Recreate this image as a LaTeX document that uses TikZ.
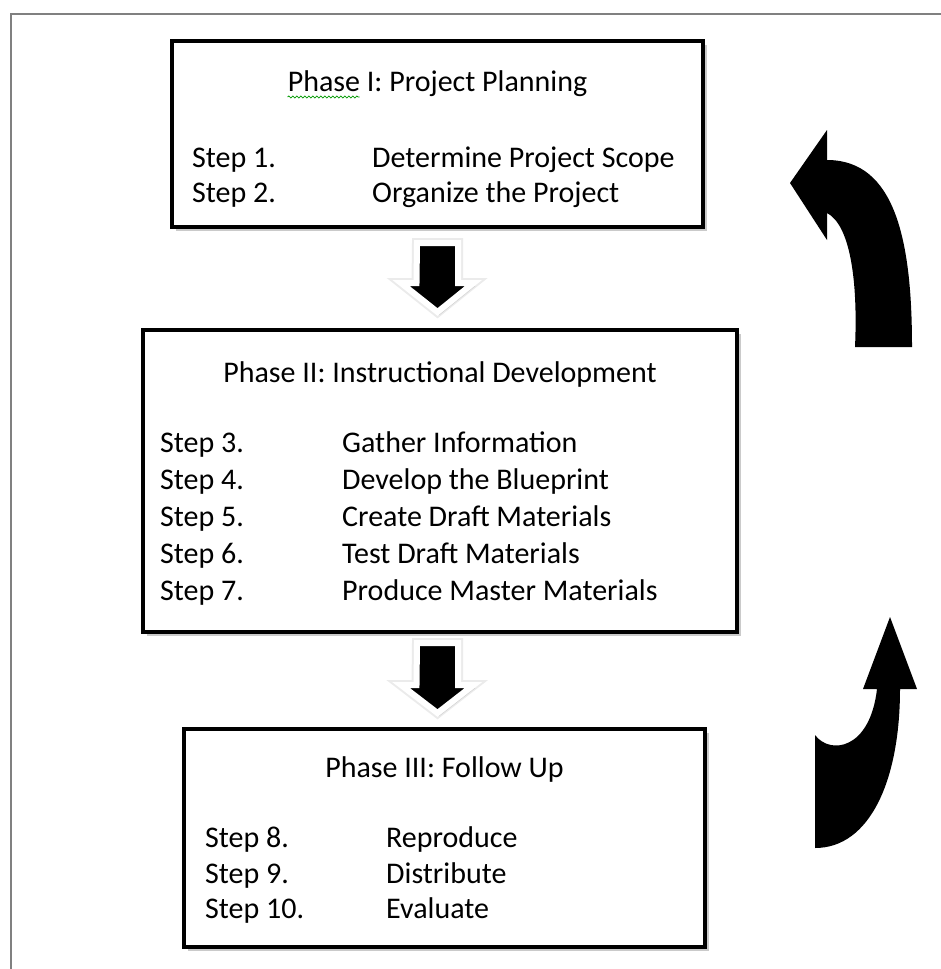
\documentclass[tikz,border=0pt]{standalone}
\usepackage{fontspec}
\setmainfont{Carlito}
\usetikzlibrary{shadows,decorations.pathmorphing,calc}
\begin{document}
\begin{tikzpicture}[x=1pt,y=-1pt,
  phasebox/.style={draw=black,line width=4pt,fill=white,inner sep=0pt,
    drop shadow={shadow xshift=4pt,shadow yshift=-4pt,opacity=0.35,fill=black!60}},
  txt/.style={anchor=base west,inner sep=0pt,font=\fontsize{30}{34}\selectfont},
  ttl/.style={anchor=base,inner sep=0pt,font=\fontsize{30}{34}\selectfont},
  blockdown/.style={fill=black,draw=white,line width=6pt,line join=miter,
    preaction={draw=black!8,line width=10pt,line join=miter},
    drop shadow={shadow xshift=2pt,shadow yshift=-3pt,opacity=0.25,fill=black!50}},
  bendarrow/.style={fill=black,draw=none},
  frame/.style={draw=black!50,line width=2pt},
  spell/.style={draw=green!60!black,line width=0.8pt,decorate,
    decoration={snake,amplitude=1pt,segment length=4pt}}]
\useasboundingbox (0,0) rectangle (940,969);
% outer frame
\draw[frame] (11,990) -- (11,14) -- (960,14);

% boxes
\node[phasebox,minimum width=531pt,minimum height=186pt] (b1) at (437.5,134) {};
\node[phasebox,minimum width=594pt,minimum height=302pt] (b2) at (440,481) {};
\node[phasebox,minimum width=521pt,minimum height=218pt] (b3) at (444.5,838) {};

% box 1 text
\node[ttl] (t1) at (437.5,91) {Phase I: Project Planning};
\draw[spell] ($(t1.base west)+(0,6)$) -- ++(72,0);
\node[txt] (s1) at (192,167) {Step 1.};
\node[txt] (d1) at (372,167) {Determine Project Scope};
\node[txt] (s2) at (192,202) {Step 2.};
\node[txt] (d2) at (372,202) {Organize the Project};

% box 2 text
\node[ttl] (t2) at (440,382) {Phase II: Instructional Development};
\node[txt] (s3) at (160,452) {Step 3.};
\node[txt] (d3) at (342,452) {Gather Information};
\node[txt] (s4) at (160,489) {Step 4.};
\node[txt] (d4) at (342,489) {Develop the Blueprint};
\node[txt] (s5) at (160,526) {Step 5.};
\node[txt] (d5) at (342,526) {Create Draft Materials};
\node[txt] (s6) at (160,563) {Step 6.};
\node[txt] (d6) at (342,563) {Test Draft Materials};
\node[txt] (s7) at (160,600) {Step 7.};
\node[txt] (d7) at (342,600) {Produce Master Materials};

% box 3 text
\node[ttl] (t3) at (444.5,777) {Phase III: Follow Up};
\node[txt] (s8) at (205,847) {Step 8.};
\node[txt] (d8) at (386,847) {Reproduce};
\node[txt] (s9) at (205,883) {Step 9.};
\node[txt] (d9) at (386,883) {Distribute};
\node[txt] (s10) at (205,918) {Step 10.};
\node[txt] (d10) at (386,918) {Evaluate};

% block arrows between boxes
\coordinate (a1) at (437.5,243);
\draw[blockdown] (a1) ++(-20.5,0) -- ++(41,0) -- ++(0,40) -- ++(15.5,0)
  -- (437.5,312) -- (401,283) -- ++(15.5,0) -- cycle;
\coordinate (a2) at (437.5,643);
\draw[blockdown] (a2) ++(-20.5,0) -- ++(41,0) -- ++(0,42) -- ++(15.5,0)
  -- (437.5,713) -- (401,685) -- ++(15.5,0) -- cycle;

% curved arrows on the right
\fill[bendarrow] (790,183) -- (827,130) -- (827,160)
  .. controls (895,160) and (912,240) .. (912,347)
  -- (855,347)
  .. controls (858,280) and (850,225) .. (827,213)
  -- (827,240) -- cycle;
\fill[bendarrow] (890,617) -- (917,689) -- (900,689)
  .. controls (900,780) and (870,848) .. (815,848)
  -- (815,735)
  .. controls (830,755) and (870,750) .. (877,689)
  -- (863,689) -- cycle;
\end{tikzpicture}
\end{document}
